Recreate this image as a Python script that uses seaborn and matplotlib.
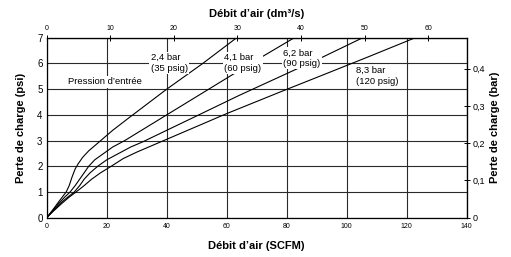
import pandas as pd
import seaborn as sns
import matplotlib.pyplot as plt
from matplotlib.ticker import FuncFormatter, MultipleLocator

# courbes : débit (SCFM) / perte de charge (psi)
pressions = ["2,4 bar", "4,1 bar", "6,2 bar", "8,3 bar"]

debit_24 = [0, 2, 4, 5.5, 6.5, 7.5, 8.5, 9.5, 10.5, 12, 14, 16, 18, 22, 27, 40, 52, 63.3]
perte_24 = [0, 0.3, 0.62, 0.85, 1.0, 1.25, 1.6, 1.9, 2.1, 2.35, 2.6, 2.8, 3.0, 3.4, 3.85, 5.0, 6.0, 7.0]

debit_41 = [0, 2, 4, 6, 7.8, 9.5, 11, 12.5, 14, 16, 19, 22, 26, 33, 40, 54, 68, 82.5]
perte_41 = [0, 0.28, 0.55, 0.8, 1.0, 1.25, 1.5, 1.75, 2.0, 2.25, 2.5, 2.75, 3.0, 3.5, 4.0, 5.0, 6.0, 7.0]

debit_62 = [0, 2, 4.5, 7, 9.2, 11, 12.5, 14.5, 17, 20, 24, 28, 32, 40, 50.7, 64, 78, 92, 105.3]
perte_62 = [0, 0.25, 0.55, 0.8, 1.0, 1.25, 1.5, 1.75, 2.0, 2.25, 2.5, 2.75, 2.95, 3.4, 4.0, 4.75, 5.5, 6.25, 7.0]

debit_83 = [0, 2, 5, 7.5, 9.8, 12.5, 15, 18, 21.5, 25.5, 30, 40, 50, 60, 78, 92, 107, 122.8]
perte_83 = [0, 0.23, 0.55, 0.8, 1.0, 1.25, 1.5, 1.75, 2.0, 2.3, 2.55, 3.05, 3.55, 4.05, 4.9, 5.55, 6.25, 7.0]

etiquettes = ["2,4 bar\n(35 psig)", "4,1 bar\n(60 psig)", "6,2 bar\n(90 psig)", "8,3 bar\n(120 psig)"]
etiq_x = [40.8, 65.4, 85.1, 110.3]
etiq_y = [6.02, 6.02, 6.2, 5.52]

PSI_PAR_BAR = 14.5038
SCFM_PAR_DM3S = 2.119


def virgule(v, pos):
    if abs(v) < 1e-9:
        return "0"
    return ("%g" % round(v, 3)).replace(".", ",")


def main():
    sns.set_style("white")
    plt.rcParams["font.family"] = ["Liberation Sans", "DejaVu Sans"]
    for k in ["text.color", "axes.labelcolor", "xtick.color", "ytick.color"]:
        plt.rcParams[k] = "black"

    frames = []
    for nom, x, y in zip(pressions, [debit_24, debit_41, debit_62, debit_83],
                         [perte_24, perte_41, perte_62, perte_83]):
        frames.append(pd.DataFrame({"debit": x, "perte": y, "pression": nom}))
    df = pd.concat(frames, ignore_index=True)

    fig = plt.figure(figsize=(5.11, 2.57), dpi=100)
    ax = fig.add_axes([0.0914, 0.153, 0.822, 0.700])

    sns.lineplot(data=df, x="debit", y="perte", hue="pression", sort=False,
                 palette=["black"] * 4, linewidth=0.8, legend=False, ax=ax, zorder=3)

    ax.set_xlim(0, 140)
    ax.set_ylim(0, 7)
    ax.xaxis.set_major_locator(MultipleLocator(20))
    ax.yaxis.set_major_locator(MultipleLocator(1))
    ax.grid(True, color="#2a2a2a", linewidth=0.8)
    for s in ax.spines.values():
        s.set_color("black")
        s.set_linewidth(0.9)
    ax.tick_params(axis="x", direction="inout", length=4, width=0.7, labelsize=5, pad=2)
    ax.tick_params(axis="y", direction="inout", length=4, width=0.7, labelsize=7, pad=1)
    ax.set_xlabel("Débit d’air (SCFM)", fontsize=8, fontweight="bold", labelpad=8)
    ax.set_ylabel("Perte de charge (psi)", fontsize=8, fontweight="bold", labelpad=8)

    # axe du haut en dm3/s
    top = ax.secondary_xaxis("top", functions=(lambda s: s / SCFM_PAR_DM3S,
                                                lambda d: d * SCFM_PAR_DM3S))
    top.set_xticks([0, 10, 20, 30, 40, 50, 60])
    top.tick_params(direction="inout", length=4, width=0.7, labelsize=5, pad=2)
    top.set_xlabel("Débit d’air (dm³/s)", fontsize=8, fontweight="bold", labelpad=6)

    # axe de droite en bar
    droite = ax.secondary_yaxis("right", functions=(lambda p: p / PSI_PAR_BAR,
                                                     lambda b: b * PSI_PAR_BAR))
    droite.set_yticks([0, 0.1, 0.2, 0.3, 0.4])
    droite.yaxis.set_major_formatter(FuncFormatter(virgule))
    droite.tick_params(direction="inout", length=4, width=0.7, labelsize=6.5, pad=2)
    droite.set_ylabel("Perte de charge (bar)", fontsize=8, fontweight="bold", labelpad=4)

    boite = dict(facecolor="white", edgecolor="none", pad=1.0)
    ax.text(19.4, 5.28, "Pression d’entrée", fontsize=6.8, ha="center", va="center",
            bbox=boite, zorder=4)
    for t, x, y in zip(etiquettes, etiq_x, etiq_y):
        ax.text(x, y, t, fontsize=6.8, ha="center", va="center", multialignment="left",
                linespacing=1.2, bbox=boite, zorder=4)

    fig.savefig("out.png", dpi=100, facecolor="white")


if __name__ == "__main__":
    main()
